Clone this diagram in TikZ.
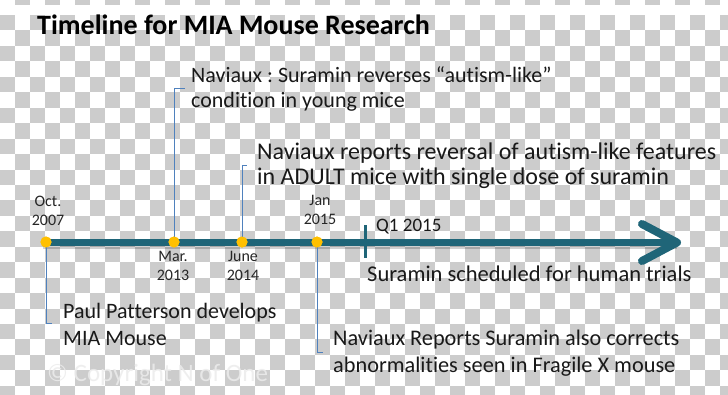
\documentclass[tikz,border=0pt]{standalone}
\usepackage{fontspec}
\setmainfont{Carlito}[Ligatures=NoCommon]
\usetikzlibrary{calc}
\frenchspacing

\definecolor{tealline}{RGB}{31,101,120}
\definecolor{dotyellow}{RGB}{255,192,0}
\definecolor{bracketblue}{RGB}{79,129,189}
\definecolor{checker}{RGB}{204,204,204}

\tikzset{
  tline/.style={draw=tealline, line width=7pt},
  evdot/.style={circle, fill=dotyellow, inner sep=0pt, minimum size=11pt},
  brack/.style={draw=bracketblue, line width=1pt},
  datelbl/.style={anchor=base, align=center, inner sep=0pt, font=\fontsize{16}{19}\selectfont, text=black!85},
  evtext/.style={anchor=base west, align=left, inner sep=0pt, font=\fontsize{22}{26}\selectfont, text=black!90}
}

\begin{document}
\begin{tikzpicture}[x=1pt, y=-1pt]
     \useasboundingbox (0,0) rectangle (728,394);
     % checker background
     \begin{scope}
     \clip (0,0) rectangle (728,394);
     \fill[white] (0,0) rectangle (728,394);
     \foreach \i in {1,3,...,47} \fill[checker] (\i*15,0) rectangle ++(15,5);
     \foreach \i in {0,...,48}{
       \foreach \j in {0,...,24}{
         \pgfmathparse{int(mod(\i+\j,2))}
         \ifnum\pgfmathresult=0
           \fill[checker] (\i*15,15+\j*15.45) rectangle ++(15,15.45);
         \fi
       }
     }
     \end{scope}

     \node[anchor=base west, inner sep=0pt, font=\bfseries\fontsize{28}{34}\selectfont] (title) at (37,34) {Timeline for MIA Mouse Research};

     % timeline
     \coordinate (tlstart) at (43,242.5);
     \coordinate (tltip) at (677,242.5);
     \coordinate (arrUp) at (642,224);
     \coordinate (arrDn) at (642,261);
     \draw[tline, draw=black, opacity=.18, transform canvas={yshift=-3pt}] (tlstart) -- (tltip);
     \draw[tline] (tlstart) -- (tltip);
     \draw[tline, line width=8pt, line join=round, line cap=round] (arrUp) -- (tltip) -- (arrDn);
     \coordinate (qTop) at (365,225);
     \coordinate (qBot) at (365,258);
     \draw[tline, line width=3pt] (qTop) -- (qBot);

     % events (anchor = baseline of last line)
     \node[evtext, font=\fontsize{22}{25}\selectfont] (eSur) at (191,107) {Naviaux : Suramin reverses “autism-like”\\condition in young mice};
     \node[evtext, font=\fontsize{24}{25}\selectfont] (eAdult) at (257,184) {Naviaux reports reversal of autism-like features\\in ADULT mice with single dose of suramin};
     \node[evtext, font=\fontsize{22}{27}\selectfont] (ePaul) at (63,345) {Paul Patterson develops\\MIA Mouse};
     \node[evtext, font=\fontsize{22.3}{27}\selectfont] (eFrag) at (333,372) {Naviaux Reports Suramin also corrects\\abnormalities seen in Fragile X mouse};
     \node[evtext, font=\fontsize{19}{23}\selectfont] (eQ) at (376,231) {Q1 2015};
     \node[evtext, font=\fontsize{22.5}{25}\selectfont] (eHum) at (367,281) {Suramin scheduled for human trials};

     \node[evdot] (dOct) at (46,242) {};
     \node[evdot] (dMar) at (174,242) {};
     \node[evdot] (dJun) at (242,242) {};
     \node[evdot] (dJan) at (317,242) {};

     \draw[brack] (dOct.center) |- ([xshift=-11pt]ePaul.west);
     \draw[brack] (dMar.center) |- ([xshift=-6pt]eSur.west);
     \draw[brack] (dJun.center) |- ([xshift=-10pt]eAdult.west);
     \draw[brack] (dJan.center) |- ([xshift=-10pt]eFrag.west);
     \node[evdot] at (dOct) {};
     \node[evdot] at (dMar) {};
     \node[evdot] at (dJun) {};
     \node[evdot] at (dJan) {};

     \node[datelbl] (lOct) at (48,225) {Oct.\\2007};
     \node[datelbl] (lMar) at (173,280) {Mar.\\2013};
     \node[datelbl] (lJun) at (243,280) {June\\2014};
     \node[datelbl] (lJan) at (320,224) {Jan\\2015};

     \node[anchor=base west, inner sep=0pt, text={rgb,255:red,236;green,236;blue,236}, opacity=.85, font=\fontsize{25}{30}\selectfont] (copy) at (47,381) {© Copyright N of One};
\end{tikzpicture}
\end{document}
